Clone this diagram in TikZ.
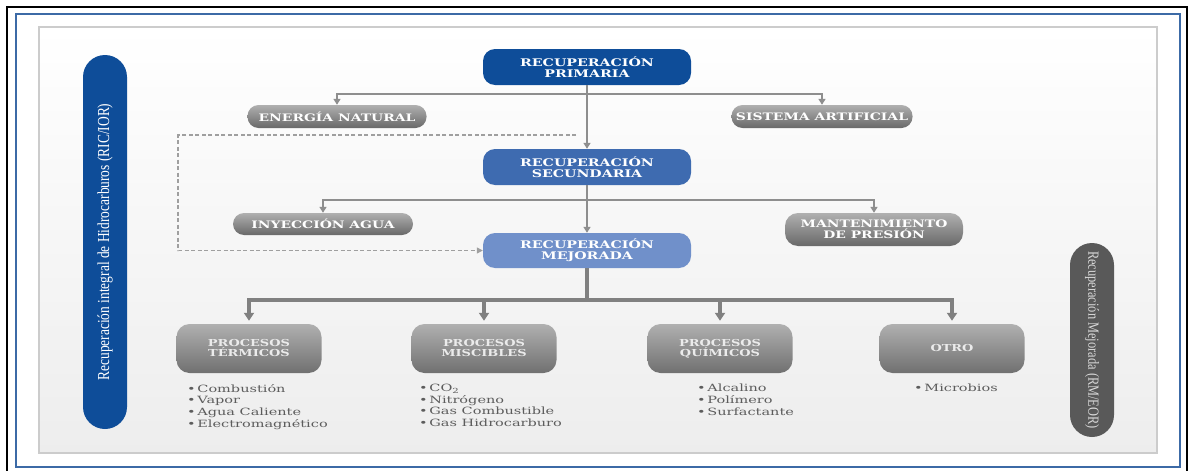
\documentclass[tikz,border=0pt]{standalone}
\usepackage{fontspec}
\setmainfont{DejaVu Serif}[FakeStretch=1.35]
\newfontfamily\listafont{DejaVu Serif}[FakeStretch=1.45]
\newfontfamily\sidefont{Liberation Serif}[FakeStretch=0.8]
\usetikzlibrary{arrows.meta}
\tikzset{>={Triangle[width=7pt,length=6pt]}}

\definecolor{azulPri}{HTML}{0E4D99}
\definecolor{azulSec}{HTML}{3E6BB0}
\definecolor{azulMej}{HTML}{7090CA}
\definecolor{lineaGris}{HTML}{8E8E8E}
\definecolor{textoGris}{HTML}{5C5C5C}
\definecolor{marcoAzul}{HTML}{3C6AA6}

\tikzset{
  caja/.style={rounded corners=12pt, minimum width=208pt, minimum height=36pt,
    inner sep=0pt, align=center, text=white,
    font=\bfseries\fontsize{10.5}{10.8}\selectfont},
  oscura/.style={rounded corners=11pt, minimum height=23pt, inner sep=0pt,
    align=center, text=white, top color=gray!62, bottom color=gray!82!black,
    font=\bfseries\fontsize{10.3}{10.6}\selectfont},
  proceso/.style={rounded corners=13pt, minimum width=145pt, minimum height=49pt,
    inner sep=0pt, align=center, text=white!92!black,
    top color=gray!62, bottom color=gray!88!black,
    font=\bfseries\fontsize{9.6}{10}\selectfont},
  lista/.style={anchor=north west, inner sep=0pt, align=left, text=textoGris,
    font=\listafont\fontsize{10}{11.6}\selectfont},
  lateral/.style={rounded corners=22pt, minimum width=44pt, inner sep=0pt},
  flujo/.style={draw=lineaGris, line width=2.6pt, ->},
  flujoB/.style={draw=lineaGris!90!black, line width=3.8pt,
    -{Triangle[width=10pt,length=8pt]}, shorten >=3pt},
  discontinua/.style={draw=lineaGris!85, line width=1.3pt, dashed,
    dash pattern=on 4pt off 2.5pt, -{Triangle[width=6pt,length=6pt]}}
}

\begin{document}
\begin{tikzpicture}[x=1pt,y=-1pt]

  \useasboundingbox (0,0) rectangle (1189,471);
  \newcommand\pto{•\,}

  % marcos
  \draw[line width=2pt] (7,475) -- (7,7) -- (1187,7) -- (1187,475);
  \draw[marcoAzul, line width=1.4pt] (16,14) rectangle (1180,467);
  \draw[gray!40, line width=1.5pt, top color=white, bottom color=gray!14]
    (39,27) rectangle (1157,453);

  % bandas laterales
  \node[lateral, fill=azulPri, minimum height=374pt] (ric) at (105,242) {};
  \node[rotate=90, text=white, font=\sidefont\fontsize{16.8}{17}\selectfont]
    (ricTxt) at (ric.center) {Recuperación integral de Hidrocarburos (RIC/IOR)};
  \node[lateral, fill=gray!70!black, minimum height=194pt] (rm) at (1092,340) {};
  \node[rotate=-90, text=white!85!black, font=\sidefont\fontsize{15.5}{16}\selectfont]
    (rmTxt) at (rm.center) {Recuperación Mejorada (RM/EOR)};

  % niveles
  \node[caja, fill=azulPri] (primaria) at (587,67) {RECUPERACIÓN\\PRIMARIA};
  \node[oscura, minimum width=179pt] (energia) at (337,116.5) {ENERGÍA NATURAL};
  \node[oscura, minimum width=181pt] (sistema) at (822,116.5) {SISTEMA ARTIFICIAL};

  \node[caja, fill=azulSec] (secundaria) at (587,167) {RECUPERACIÓN\\SECUNDARIA};
  \node[oscura, minimum width=180pt, minimum height=22pt] (inyeccion) at (323,224) {INYECCIÓN AGUA};
  \node[oscura, minimum width=178pt, minimum height=33pt, rounded corners=13pt]
    (mantenimiento) at (874,229.5) {MANTENIMIENTO\\DE PRESIÓN};

  \node[caja, fill=azulMej, minimum height=35pt] (mejorada) at (587,250.5) {RECUPERACIÓN\\MEJORADA};

  \node[proceso] (termicos) at (249,348.5) {PROCESOS\\TÉRMICOS};
  \node[proceso] (miscibles) at (484,348.5) {PROCESOS\\MISCIBLES};
  \node[proceso] (quimicos) at (720,348.5) {PROCESOS\\QUÍMICOS};
  \node[proceso] (otro) at (952,348.5) {OTRO};

  \node[lista] (lTer) at (187,384) {\pto Combustión\\\pto Vapor\\\pto Agua Caliente\\\pto Electromagnético};
  \node[lista] (lMis) at (419,384) {\pto CO\textsubscript{2}\\\pto Nitrógeno\\\pto Gas Combustible\\\pto Gas Hidrocarburo};
  \node[lista] (lQui) at (697,384) {\pto Alcalino\\\pto Polímero\\\pto Surfactante};
  \node[lista] (lOtr) at (914,384) {\pto Microbios};

  % conexiones
  \coordinate (j1) at (587,94);
  \coordinate (j2) at (587,200);
  \coordinate (j3) at (587,300);

  \draw[flujo] (primaria.south) -- (secundaria.north);
  \draw[flujo] (j1) -| (energia.north);
  \draw[flujo] (j1) -| (sistema.north);

  \draw[flujo] (secundaria.south) -- (mejorada.north);
  \draw[flujo] (j2) -| (inyeccion.north);
  \draw[flujo] (j2) -| (mantenimiento.north);

  \draw[draw=lineaGris!90!black, line width=3.8pt] (mejorada.south) -- (j3);
  \draw[flujoB] (j3) -| (termicos.north);
  \draw[flujoB] (j3) -| (miscibles.north);
  \draw[flujoB] (j3) -| (quimicos.north);
  \draw[flujoB] (j3) -| (otro.north);

  \coordinate (d1) at (576,135);
  \coordinate (d2) at (178,135);
  \draw[discontinua] (d1) -- (d2) |- (mejorada.west);

\end{tikzpicture}
\end{document}
